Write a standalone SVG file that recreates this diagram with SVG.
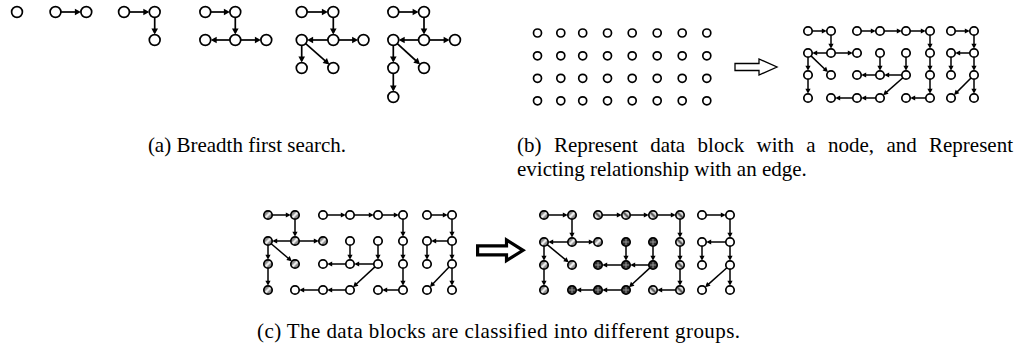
<svg xmlns="http://www.w3.org/2000/svg" width="1018" height="349" viewBox="0 0 1018 349">
<style>
circle{stroke:#000;stroke-width:1.7;fill:#fff}
.h1{fill:url(#p1)}
.h2{fill:url(#p2)}
.h3{fill:url(#p3)}
.h4{fill:url(#p4)}
.ea{stroke:#000;stroke-width:1.7;fill:none;marker-end:url(#ma)}
.eb{stroke:#000;stroke-width:1.5;fill:none;marker-end:url(#mb)}
.blk{fill:#fff;stroke:#000;stroke-linejoin:miter}
text{font-family:"Liberation Serif","Times New Roman",serif;font-size:21px;fill:#000}
</style>
<defs>
<marker id="ma" markerUnits="userSpaceOnUse" markerWidth="8" markerHeight="8" refX="4" refY="3.3" orient="auto" overflow="visible"><path d="M0,0 L6,3.3 L0,6.6 z" fill="#000"/></marker>
<marker id="mb" markerUnits="userSpaceOnUse" markerWidth="7" markerHeight="7" refX="3" refY="2.6" orient="auto" overflow="visible"><path d="M0,0 L5,2.6 L0,5.2 z" fill="#000"/></marker>
<pattern id="p1" patternContentUnits="objectBoundingBox" width="1" height="1"><rect width="1" height="1" fill="#8c8c8c"/><path d="M0.1,0.9 L0.9,0.1" stroke="#f2f2f2" stroke-width="0.28"/></pattern>
<pattern id="p2" patternContentUnits="objectBoundingBox" width="1" height="1"><rect width="1" height="1" fill="#e0e0e0"/><path d="M0.1,0.1 L0.9,0.9" stroke="#555" stroke-width="0.26"/></pattern>
<pattern id="p3" patternContentUnits="objectBoundingBox" width="1" height="1"><rect width="1" height="1" fill="#2a2a2a"/><path d="M0.5,0 V1 M0,0.5 H1" stroke="#9a9a9a" stroke-width="0.12"/></pattern>
<pattern id="p4" patternContentUnits="objectBoundingBox" width="1" height="1"><rect width="1" height="1" fill="#fff"/><circle cx="0.5" cy="0.5" r="0.1" fill="#000" stroke="none"/></pattern>
</defs>

<!-- (a) -->
<g id="a1-n0"><circle cx="17" cy="12" r="5.4"/></g>
<g id="a2-n0"><circle cx="55.5" cy="12" r="5.4"/></g>
<g id="a2-n1"><circle cx="86.3" cy="12" r="5.4"/></g>
<g id="a3-n0"><circle cx="124" cy="12" r="5.4"/></g>
<g id="a3-n1"><circle cx="154.7" cy="12" r="5.4"/></g>
<g id="a3-n2"><circle cx="154.7" cy="40" r="5.4"/></g>
<g id="a4-n0"><circle cx="205.3" cy="12" r="5.4"/></g>
<g id="a4-n1"><circle cx="235.3" cy="12" r="5.4"/></g>
<g id="a4-n2"><circle cx="205.3" cy="40" r="5.4"/></g>
<g id="a4-n3"><circle cx="235.3" cy="40" r="5.4"/></g>
<g id="a4-n4"><circle cx="266.3" cy="40" r="5.4"/></g>
<g id="a5-n0"><circle cx="301.7" cy="12" r="5.4"/></g>
<g id="a5-n1"><circle cx="333.3" cy="12" r="5.4"/></g>
<g id="a5-n2"><circle cx="301.7" cy="40" r="5.4"/></g>
<g id="a5-n3"><circle cx="333.3" cy="40" r="5.4"/></g>
<g id="a5-n4"><circle cx="363.5" cy="40" r="5.4"/></g>
<g id="a5-n5"><circle cx="301.7" cy="68" r="5.4"/></g>
<g id="a5-n6"><circle cx="333.3" cy="68" r="5.4"/></g>
<g id="a6-n0"><circle cx="393.3" cy="12" r="5.4"/></g>
<g id="a6-n1"><circle cx="424" cy="12" r="5.4"/></g>
<g id="a6-n2"><circle cx="393.3" cy="40" r="5.4"/></g>
<g id="a6-n3"><circle cx="424" cy="40" r="5.4"/></g>
<g id="a6-n4"><circle cx="455" cy="40" r="5.4"/></g>
<g id="a6-n5"><circle cx="393.3" cy="68" r="5.4"/></g>
<g id="a6-n6"><circle cx="424" cy="68" r="5.4"/></g>
<g id="a6-n7"><circle cx="393.3" cy="97" r="5.4"/></g>

<!-- (b) grid -->
<g id="bg-r0c0"><circle cx="537.5" cy="33" r="4"/></g>
<g id="bg-r0c1"><circle cx="560.8" cy="33" r="4"/></g>
<g id="bg-r0c2"><circle cx="582.7" cy="33" r="4"/></g>
<g id="bg-r0c3"><circle cx="607.5" cy="33" r="4"/></g>
<g id="bg-r0c4"><circle cx="632.2" cy="33" r="4"/></g>
<g id="bg-r0c5"><circle cx="657.2" cy="33" r="4"/></g>
<g id="bg-r0c6"><circle cx="682.2" cy="33" r="4"/></g>
<g id="bg-r0c7"><circle cx="706.8" cy="33" r="4"/></g>
<g id="bg-r1c0"><circle cx="537.5" cy="55.8" r="4"/></g>
<g id="bg-r1c1"><circle cx="560.8" cy="55.8" r="4"/></g>
<g id="bg-r1c2"><circle cx="582.7" cy="55.8" r="4"/></g>
<g id="bg-r1c3"><circle cx="607.5" cy="55.8" r="4"/></g>
<g id="bg-r1c4"><circle cx="632.2" cy="55.8" r="4"/></g>
<g id="bg-r1c5"><circle cx="657.2" cy="55.8" r="4"/></g>
<g id="bg-r1c6"><circle cx="682.2" cy="55.8" r="4"/></g>
<g id="bg-r1c7"><circle cx="706.8" cy="55.8" r="4"/></g>
<g id="bg-r2c0"><circle cx="537.5" cy="78.3" r="4"/></g>
<g id="bg-r2c1"><circle cx="560.8" cy="78.3" r="4"/></g>
<g id="bg-r2c2"><circle cx="582.7" cy="78.3" r="4"/></g>
<g id="bg-r2c3"><circle cx="607.5" cy="78.3" r="4"/></g>
<g id="bg-r2c4"><circle cx="632.2" cy="78.3" r="4"/></g>
<g id="bg-r2c5"><circle cx="657.2" cy="78.3" r="4"/></g>
<g id="bg-r2c6"><circle cx="682.2" cy="78.3" r="4"/></g>
<g id="bg-r2c7"><circle cx="706.8" cy="78.3" r="4"/></g>
<g id="bg-r3c0"><circle cx="537.5" cy="100.8" r="4"/></g>
<g id="bg-r3c1"><circle cx="560.8" cy="100.8" r="4"/></g>
<g id="bg-r3c2"><circle cx="582.7" cy="100.8" r="4"/></g>
<g id="bg-r3c3"><circle cx="607.5" cy="100.8" r="4"/></g>
<g id="bg-r3c4"><circle cx="632.2" cy="100.8" r="4"/></g>
<g id="bg-r3c5"><circle cx="657.2" cy="100.8" r="4"/></g>
<g id="bg-r3c6"><circle cx="682.2" cy="100.8" r="4"/></g>
<g id="bg-r3c7"><circle cx="706.8" cy="100.8" r="4"/></g>

<polygon class="blk" stroke-width="1.3" points="735,63.5 759,63.5 759,59 777,67 759,75 759,70.5 735,70.5"/>

<!-- (b) graph -->
<g id="bn-r0c0"><circle cx="808" cy="31" r="4.2"/></g>
<g id="bn-r0c1"><circle cx="831" cy="31" r="4.2"/></g>
<g id="bn-r0c2"><circle cx="857" cy="31" r="4.2"/></g>
<g id="bn-r0c3"><circle cx="880" cy="31" r="4.2"/></g>
<g id="bn-r0c4"><circle cx="906" cy="31" r="4.2"/></g>
<g id="bn-r0c5"><circle cx="930" cy="31" r="4.2"/></g>
<g id="bn-r0c6"><circle cx="951" cy="31" r="4.2"/></g>
<g id="bn-r0c7"><circle cx="974" cy="31" r="4.2"/></g>
<g id="bn-r1c0"><circle cx="808" cy="53" r="4.2"/></g>
<g id="bn-r1c1"><circle cx="831" cy="53" r="4.2"/></g>
<g id="bn-r1c2"><circle cx="857" cy="53" r="4.2"/></g>
<g id="bn-r1c3"><circle cx="880" cy="53" r="4.2"/></g>
<g id="bn-r1c4"><circle cx="906" cy="53" r="4.2"/></g>
<g id="bn-r1c5"><circle cx="930" cy="53" r="4.2"/></g>
<g id="bn-r1c6"><circle cx="951" cy="53" r="4.2"/></g>
<g id="bn-r1c7"><circle cx="974" cy="53" r="4.2"/></g>
<g id="bn-r2c0"><circle cx="808" cy="75" r="4.2"/></g>
<g id="bn-r2c1"><circle cx="831" cy="75" r="4.2"/></g>
<g id="bn-r2c2"><circle cx="857" cy="75" r="4.2"/></g>
<g id="bn-r2c3"><circle cx="880" cy="75" r="4.2"/></g>
<g id="bn-r2c4"><circle cx="906" cy="75" r="4.2"/></g>
<g id="bn-r2c5"><circle cx="930" cy="75" r="4.2"/></g>
<g id="bn-r2c6"><circle cx="951" cy="75" r="4.2"/></g>
<g id="bn-r2c7"><circle cx="974" cy="75" r="4.2"/></g>
<g id="bn-r3c0"><circle cx="808" cy="98" r="4.2"/></g>
<g id="bn-r3c1"><circle cx="831" cy="98" r="4.2"/></g>
<g id="bn-r3c2"><circle cx="857" cy="98" r="4.2"/></g>
<g id="bn-r3c3"><circle cx="880" cy="98" r="4.2"/></g>
<g id="bn-r3c4"><circle cx="906" cy="98" r="4.2"/></g>
<g id="bn-r3c5"><circle cx="930" cy="98" r="4.2"/></g>
<g id="bn-r3c6"><circle cx="951" cy="98" r="4.2"/></g>
<g id="bn-r3c7"><circle cx="974" cy="98" r="4.2"/></g>

<!-- (c) left -->
<g id="cl-r0c0"><circle class="h1" cx="268" cy="215" r="4.2"/></g>
<g id="cl-r0c1"><circle class="h1" cx="295" cy="215" r="4.2"/></g>
<g id="cl-r0c2"><circle cx="323" cy="215" r="4.2"/></g>
<g id="cl-r0c3"><circle cx="350" cy="215" r="4.2"/></g>
<g id="cl-r0c4"><circle cx="378" cy="215" r="4.2"/></g>
<g id="cl-r0c5"><circle cx="403" cy="215" r="4.2"/></g>
<g id="cl-r0c6"><circle cx="427" cy="215" r="4.2"/></g>
<g id="cl-r0c7"><circle cx="452" cy="215" r="4.2"/></g>
<g id="cl-r1c0"><circle class="h1" cx="268" cy="241" r="4.2"/></g>
<g id="cl-r1c1"><circle class="h1" cx="295" cy="241" r="4.2"/></g>
<g id="cl-r1c2"><circle class="h1" cx="323" cy="241" r="4.2"/></g>
<g id="cl-r1c3"><circle cx="350" cy="241" r="4.2"/></g>
<g id="cl-r1c4"><circle cx="378" cy="241" r="4.2"/></g>
<g id="cl-r1c5"><circle cx="403" cy="241" r="4.2"/></g>
<g id="cl-r1c6"><circle cx="427" cy="241" r="4.2"/></g>
<g id="cl-r1c7"><circle cx="452" cy="241" r="4.2"/></g>
<g id="cl-r2c0"><circle class="h1" cx="268" cy="264" r="4.2"/></g>
<g id="cl-r2c1"><circle class="h1" cx="295" cy="264" r="4.2"/></g>
<g id="cl-r2c2"><circle cx="323" cy="264" r="4.2"/></g>
<g id="cl-r2c3"><circle cx="350" cy="264" r="4.2"/></g>
<g id="cl-r2c4"><circle cx="378" cy="264" r="4.2"/></g>
<g id="cl-r2c5"><circle cx="403" cy="264" r="4.2"/></g>
<g id="cl-r2c6"><circle cx="427" cy="264" r="4.2"/></g>
<g id="cl-r2c7"><circle cx="452" cy="264" r="4.2"/></g>
<g id="cl-r3c0"><circle class="h1" cx="268" cy="290" r="4.2"/></g>
<g id="cl-r3c1"><circle cx="295" cy="290" r="4.2"/></g>
<g id="cl-r3c2"><circle cx="323" cy="290" r="4.2"/></g>
<g id="cl-r3c3"><circle cx="350" cy="290" r="4.2"/></g>
<g id="cl-r3c4"><circle cx="378" cy="290" r="4.2"/></g>
<g id="cl-r3c5"><circle cx="403" cy="290" r="4.2"/></g>
<g id="cl-r3c6"><circle cx="427" cy="290" r="4.2"/></g>
<g id="cl-r3c7"><circle cx="452" cy="290" r="4.2"/></g>

<polygon class="blk" stroke-width="3.2" points="477.6,245.8 506.5,245.8 506.5,240 523,250.3 506.5,260.6 506.5,254.8 477.6,254.8"/>

<!-- (c) right -->
<g id="cr-r0c0"><circle class="h1" cx="544" cy="215" r="4.2"/></g>
<g id="cr-r0c1"><circle class="h1" cx="572" cy="215" r="4.2"/></g>
<g id="cr-r0c2"><circle class="h2" cx="598" cy="215" r="4.2"/></g>
<g id="cr-r0c3"><circle class="h2" cx="626" cy="215" r="4.2"/></g>
<g id="cr-r0c4"><circle class="h2" cx="653" cy="215" r="4.2"/></g>
<g id="cr-r0c5"><circle class="h2" cx="680" cy="215" r="4.2"/></g>
<g id="cr-r0c6"><circle class="h4" cx="702" cy="215" r="4.2"/></g>
<g id="cr-r0c7"><circle class="h4" cx="730" cy="215" r="4.2"/></g>
<g id="cr-r1c0"><circle class="h1" cx="544" cy="242" r="4.2"/></g>
<g id="cr-r1c1"><circle class="h1" cx="572" cy="242" r="4.2"/></g>
<g id="cr-r1c2"><circle class="h1" cx="598" cy="242" r="4.2"/></g>
<g id="cr-r1c3"><circle class="h3" cx="626" cy="242" r="4.2"/></g>
<g id="cr-r1c4"><circle class="h3" cx="653" cy="242" r="4.2"/></g>
<g id="cr-r1c5"><circle class="h2" cx="680" cy="242" r="4.2"/></g>
<g id="cr-r1c6"><circle class="h4" cx="702" cy="242" r="4.2"/></g>
<g id="cr-r1c7"><circle class="h4" cx="730" cy="242" r="4.2"/></g>
<g id="cr-r2c0"><circle class="h1" cx="544" cy="265" r="4.2"/></g>
<g id="cr-r2c1"><circle class="h1" cx="572" cy="265" r="4.2"/></g>
<g id="cr-r2c2"><circle class="h3" cx="598" cy="265" r="4.2"/></g>
<g id="cr-r2c3"><circle class="h3" cx="626" cy="265" r="4.2"/></g>
<g id="cr-r2c4"><circle class="h3" cx="653" cy="265" r="4.2"/></g>
<g id="cr-r2c5"><circle class="h2" cx="680" cy="265" r="4.2"/></g>
<g id="cr-r2c6"><circle class="h4" cx="702" cy="265" r="4.2"/></g>
<g id="cr-r2c7"><circle class="h4" cx="730" cy="265" r="4.2"/></g>
<g id="cr-r3c0"><circle class="h1" cx="544" cy="290" r="4.2"/></g>
<g id="cr-r3c1"><circle class="h3" cx="572" cy="290" r="4.2"/></g>
<g id="cr-r3c2"><circle class="h3" cx="598" cy="290" r="4.2"/></g>
<g id="cr-r3c3"><circle class="h3" cx="626" cy="290" r="4.2"/></g>
<g id="cr-r3c4"><circle class="h2" cx="653" cy="290" r="4.2"/></g>
<g id="cr-r3c5"><circle class="h2" cx="680" cy="290" r="4.2"/></g>
<g id="cr-r3c6"><circle class="h4" cx="702" cy="290" r="4.2"/></g>
<g id="cr-r3c7"><circle class="h4" cx="730" cy="290" r="4.2"/></g>

<g id="connectors">
<!-- (a) -->
<line class="ea" x1="60.9" y1="12" x2="78.9" y2="12"/>
<line class="ea" x1="129.4" y1="12" x2="147.3" y2="12"/>
<line class="ea" x1="154.7" y1="17.4" x2="154.7" y2="32.6"/>
<line class="ea" x1="210.7" y1="12" x2="227.9" y2="12"/>
<line class="ea" x1="235.3" y1="17.4" x2="235.3" y2="32.6"/>
<line class="ea" x1="229.9" y1="40" x2="212.7" y2="40"/>
<line class="ea" x1="240.7" y1="40" x2="258.9" y2="40"/>
<line class="ea" x1="307.1" y1="12" x2="325.9" y2="12"/>
<line class="ea" x1="333.3" y1="17.4" x2="333.3" y2="32.6"/>
<line class="ea" x1="327.9" y1="40" x2="309.1" y2="40"/>
<line class="ea" x1="338.7" y1="40" x2="356.1" y2="40"/>
<line class="ea" x1="301.7" y1="45.4" x2="301.7" y2="60.6"/>
<line class="ea" x1="305.7" y1="43.6" x2="327.8" y2="63.1"/>
<line class="ea" x1="398.7" y1="12" x2="416.6" y2="12"/>
<line class="ea" x1="424" y1="17.4" x2="424" y2="32.6"/>
<line class="ea" x1="418.6" y1="40" x2="400.7" y2="40"/>
<line class="ea" x1="429.4" y1="40" x2="447.6" y2="40"/>
<line class="ea" x1="393.3" y1="45.4" x2="393.3" y2="60.6"/>
<line class="ea" x1="397.3" y1="43.6" x2="418.5" y2="63"/>
<line class="ea" x1="393.3" y1="73.4" x2="393.3" y2="89.6"/>
<!-- (b) graph -->
<line class="eb" x1="812.2" y1="31" x2="824.8" y2="31"/>
<line class="eb" x1="861.2" y1="31" x2="873.8" y2="31"/>
<line class="eb" x1="884.2" y1="31" x2="899.8" y2="31"/>
<line class="eb" x1="910.2" y1="31" x2="923.8" y2="31"/>
<line class="eb" x1="955.2" y1="31" x2="967.8" y2="31"/>
<line class="eb" x1="831" y1="35.2" x2="831" y2="46.8"/>
<line class="eb" x1="826.8" y1="53" x2="814.2" y2="53"/>
<line class="eb" x1="835.2" y1="53" x2="850.8" y2="53"/>
<line class="eb" x1="930" y1="35.2" x2="930" y2="46.8"/>
<line class="eb" x1="974" y1="35.2" x2="974" y2="46.8"/>
<line class="eb" x1="969.8" y1="53" x2="957.2" y2="53"/>
<line class="eb" x1="808" y1="57.2" x2="808" y2="68.8"/>
<line class="eb" x1="811" y1="55.9" x2="826.5" y2="70.7"/>
<line class="eb" x1="880" y1="57.2" x2="880" y2="68.8"/>
<line class="eb" x1="906" y1="57.2" x2="906" y2="68.8"/>
<line class="eb" x1="875.8" y1="75" x2="863.2" y2="75"/>
<line class="eb" x1="901.8" y1="75" x2="886.2" y2="75"/>
<line class="eb" x1="930" y1="57.2" x2="930" y2="68.8"/>
<line class="eb" x1="951" y1="57.2" x2="951" y2="68.8"/>
<line class="eb" x1="974" y1="57.2" x2="974" y2="68.8"/>
<line class="eb" x1="808" y1="79.2" x2="808" y2="91.8"/>
<line class="eb" x1="902.9" y1="77.8" x2="884.6" y2="93.9"/>
<line class="eb" x1="930" y1="79.2" x2="930" y2="91.8"/>
<line class="eb" x1="971" y1="78" x2="955.4" y2="93.6"/>
<line class="eb" x1="974" y1="79.2" x2="974" y2="91.8"/>
<line class="eb" x1="875.8" y1="98" x2="863.2" y2="98"/>
<line class="eb" x1="852.8" y1="98" x2="837.2" y2="98"/>
<line class="eb" x1="925.8" y1="98" x2="912.2" y2="98"/>
<!-- (c) left -->
<line class="eb" x1="272.2" y1="215" x2="288.8" y2="215"/>
<line class="eb" x1="327.2" y1="215" x2="343.8" y2="215"/>
<line class="eb" x1="354.2" y1="215" x2="371.8" y2="215"/>
<line class="eb" x1="382.2" y1="215" x2="396.8" y2="215"/>
<line class="eb" x1="431.2" y1="215" x2="445.8" y2="215"/>
<line class="eb" x1="295" y1="219.2" x2="295" y2="234.8"/>
<line class="eb" x1="290.8" y1="241" x2="274.2" y2="241"/>
<line class="eb" x1="299.2" y1="241" x2="316.8" y2="241"/>
<line class="eb" x1="403" y1="219.2" x2="403" y2="234.8"/>
<line class="eb" x1="452" y1="219.2" x2="452" y2="234.8"/>
<line class="eb" x1="447.8" y1="241" x2="433.2" y2="241"/>
<line class="eb" x1="268" y1="245.2" x2="268" y2="257.8"/>
<line class="eb" x1="271.2" y1="243.7" x2="290.3" y2="260"/>
<line class="eb" x1="350" y1="245.2" x2="350" y2="257.8"/>
<line class="eb" x1="378" y1="245.2" x2="378" y2="257.8"/>
<line class="eb" x1="345.8" y1="264" x2="329.2" y2="264"/>
<line class="eb" x1="373.8" y1="264" x2="356.2" y2="264"/>
<line class="eb" x1="403" y1="245.2" x2="403" y2="257.8"/>
<line class="eb" x1="427" y1="245.2" x2="427" y2="257.8"/>
<line class="eb" x1="452" y1="245.2" x2="452" y2="257.8"/>
<line class="eb" x1="268" y1="268.2" x2="268" y2="283.8"/>
<line class="eb" x1="374.9" y1="266.9" x2="354.5" y2="285.8"/>
<line class="eb" x1="403" y1="268.2" x2="403" y2="283.8"/>
<line class="eb" x1="449.1" y1="267" x2="431.3" y2="285.5"/>
<line class="eb" x1="452" y1="268.2" x2="452" y2="283.8"/>
<line class="eb" x1="345.8" y1="290" x2="329.2" y2="290"/>
<line class="eb" x1="318.8" y1="290" x2="301.2" y2="290"/>
<line class="eb" x1="398.8" y1="290" x2="384.2" y2="290"/>
<!-- (c) right -->
<line class="eb" x1="548.2" y1="215" x2="565.8" y2="215"/>
<line class="eb" x1="602.2" y1="215" x2="619.8" y2="215"/>
<line class="eb" x1="630.2" y1="215" x2="646.8" y2="215"/>
<line class="eb" x1="657.2" y1="215" x2="673.8" y2="215"/>
<line class="eb" x1="706.2" y1="215" x2="723.8" y2="215"/>
<line class="eb" x1="572" y1="219.2" x2="572" y2="235.8"/>
<line class="eb" x1="567.8" y1="242" x2="550.2" y2="242"/>
<line class="eb" x1="576.2" y1="242" x2="591.8" y2="242"/>
<line class="eb" x1="680" y1="219.2" x2="680" y2="235.8"/>
<line class="eb" x1="730" y1="219.2" x2="730" y2="235.8"/>
<line class="eb" x1="725.8" y1="242" x2="708.2" y2="242"/>
<line class="eb" x1="544" y1="246.2" x2="544" y2="258.8"/>
<line class="eb" x1="547.2" y1="244.7" x2="567.2" y2="261.1"/>
<line class="eb" x1="626" y1="246.2" x2="626" y2="258.8"/>
<line class="eb" x1="653" y1="246.2" x2="653" y2="258.8"/>
<line class="eb" x1="621.8" y1="265" x2="604.2" y2="265"/>
<line class="eb" x1="648.8" y1="265" x2="632.2" y2="265"/>
<line class="eb" x1="680" y1="246.2" x2="680" y2="258.8"/>
<line class="eb" x1="702" y1="246.2" x2="702" y2="258.8"/>
<line class="eb" x1="730" y1="246.2" x2="730" y2="258.8"/>
<line class="eb" x1="544" y1="269.2" x2="544" y2="283.8"/>
<line class="eb" x1="649.9" y1="267.9" x2="630.5" y2="285.8"/>
<line class="eb" x1="680" y1="269.2" x2="680" y2="283.8"/>
<line class="eb" x1="726.9" y1="267.8" x2="706.6" y2="285.9"/>
<line class="eb" x1="730" y1="269.2" x2="730" y2="283.8"/>
<line class="eb" x1="621.8" y1="290" x2="604.2" y2="290"/>
<line class="eb" x1="593.8" y1="290" x2="578.2" y2="290"/>
<line class="eb" x1="675.8" y1="290" x2="659.2" y2="290"/>
</g>

<text x="247" y="152" text-anchor="middle">(a) Breadth first search.</text>
<text y="152"><tspan x="517">(b)</tspan> <tspan x="553.9">Represent</tspan> <tspan x="650.2">data</tspan> <tspan x="697.6">block</tspan> <tspan x="756.6">with</tspan> <tspan x="806.3">a</tspan> <tspan x="827.9">node,</tspan> <tspan x="886.4">and</tspan> <tspan x="929">Represent</tspan></text>
<text x="517" y="176">evicting relationship with an edge.</text>
<text x="257" y="338" textLength="483" lengthAdjust="spacing">(c) The data blocks are classified into different groups.</text>
</svg>
